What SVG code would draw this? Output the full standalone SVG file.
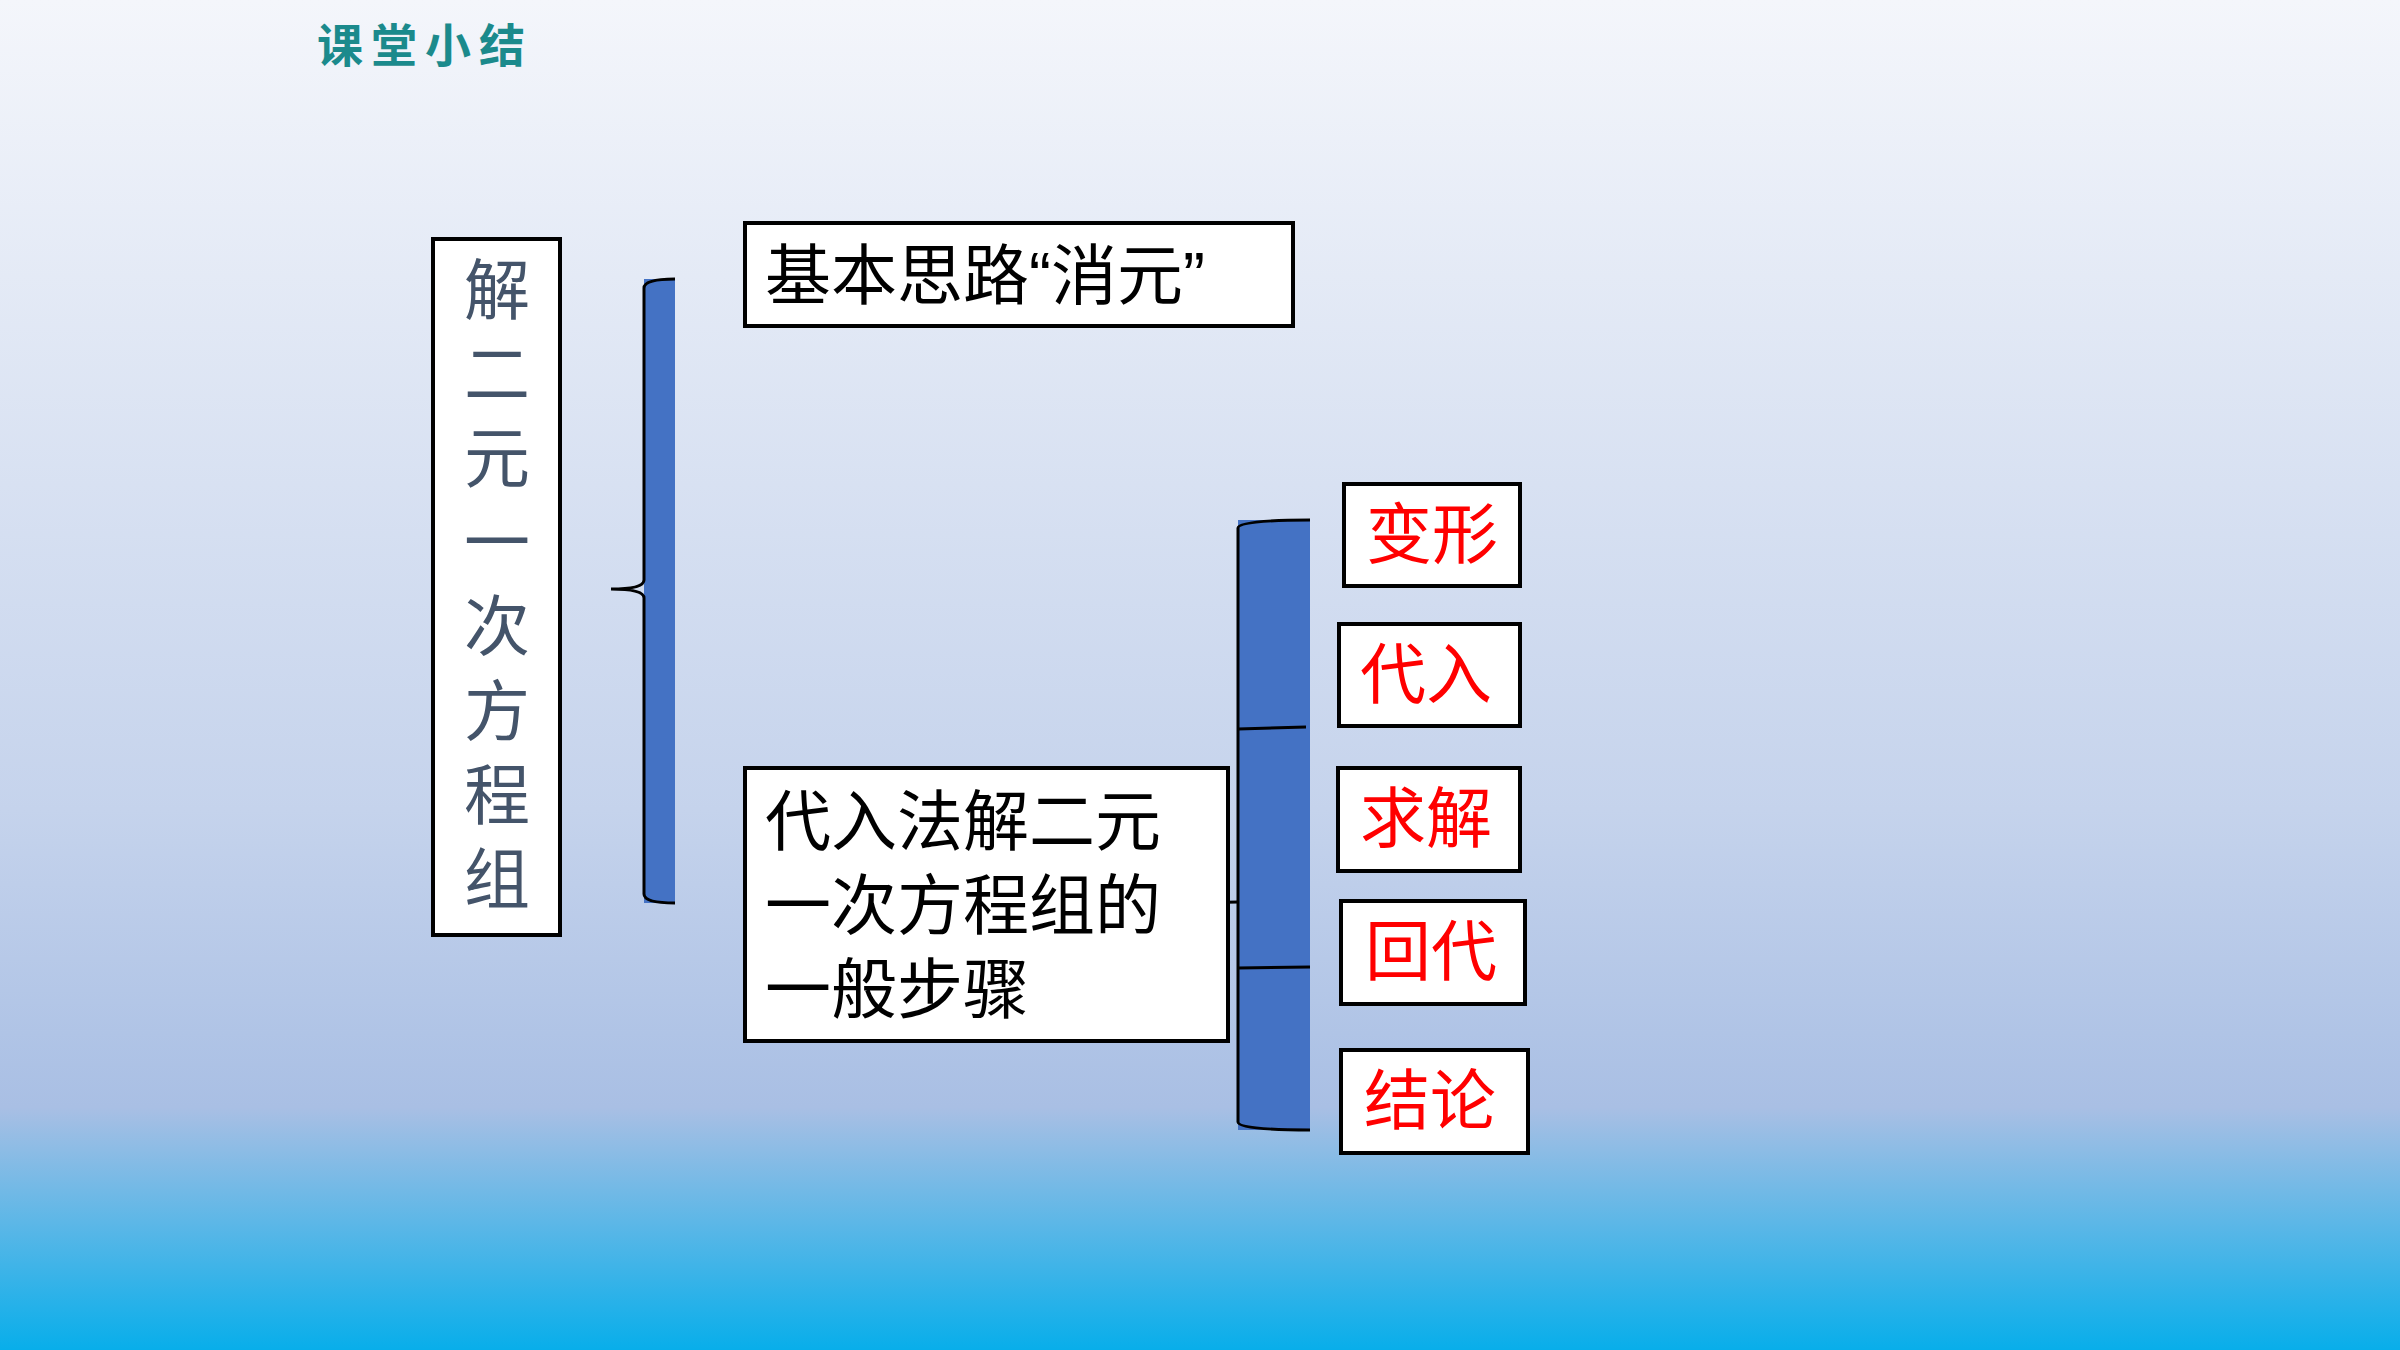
<svg xmlns="http://www.w3.org/2000/svg" width="2400" height="1350" viewBox="0 0 2400 1350">
<defs>
<linearGradient id="bg" x1="0" y1="0" x2="0" y2="1">
<stop offset="0" stop-color="#f4f6fb"/>
<stop offset="0.6" stop-color="#c5d3ec"/>
<stop offset="0.82" stop-color="#a9bfe4"/>
<stop offset="1" stop-color="#08aeea"/>
</linearGradient>
<style>
.t{font-family:"Liberation Sans","Noto Sans CJK SC",sans-serif;font-size:66px}
.box{fill:#fff;stroke:#000;stroke-width:4}
.red{fill:#ff0000;text-anchor:middle}
.bar{fill:#4472c4}
.ln{fill:none;stroke:#000;stroke-width:3}
</style>
</defs>
<rect width="2400" height="1350" fill="url(#bg)"/>
<text x="317" y="62" font-family="'Noto Sans CJK SC',sans-serif" font-size="46" font-weight="bold" fill="#1b8a8c" letter-spacing="8">课堂小结</text>
<g id="main">
<rect class="box" x="433" y="239" width="127" height="696"/>
<g class="t" fill="#44546a" text-anchor="middle">
<text x="497" y="314">解</text><text x="497" y="398">二</text><text x="497" y="482">元</text><text x="497" y="566">一</text>
<text x="497" y="650">次</text><text x="497" y="735">方</text><text x="497" y="819">程</text><text x="497" y="903">组</text>
</g>
</g>
<g id="connectors">
<rect class="bar" x="644" y="279" width="31" height="624"/>
<path class="ln" d="M675 279 Q644 279 644 288 L644 580 Q644 589 611 589 Q644 589 644 598 L644 894 Q644 903 675 903"/>
<rect class="bar" x="1238" y="520" width="72" height="610"/>
<path class="ln" d="M1310 520 Q1238 520 1238 528 L1238 1122 Q1238 1130 1310 1130"/>
<path class="ln" d="M1238 729 L1306 727 M1238 968 L1310 967 M1191 903 L1238 902"/>
</g>
<g id="n1"><rect class="box" x="745" y="223" width="548" height="103"/><text class="t" x="765" y="299">基本思路“消元”</text></g>
<g id="n2"><rect class="box" x="745" y="768" width="483" height="273"/>
<text class="t" x="765" y="845">代入法解二元</text><text class="t" x="765" y="929">一次方程组的</text><text class="t" x="765" y="1013">一般步骤</text></g>
<g id="s1"><rect class="box" x="1344" y="484" width="176" height="102"/><text class="t red" x="1432" y="558">变形</text></g>
<g id="s2"><rect class="box" x="1339" y="624" width="181" height="102"/><text class="t red" x="1426" y="698">代入</text></g>
<g id="s3"><rect class="box" x="1338" y="768" width="182" height="103"/><text class="t red" x="1426" y="842">求解</text></g>
<g id="s4"><rect class="box" x="1341" y="901" width="184" height="103"/><text class="t red" x="1431" y="975">回代</text></g>
<g id="s5"><rect class="box" x="1341" y="1050" width="187" height="103"/><text class="t red" x="1430" y="1124">结论</text></g>
</svg>
